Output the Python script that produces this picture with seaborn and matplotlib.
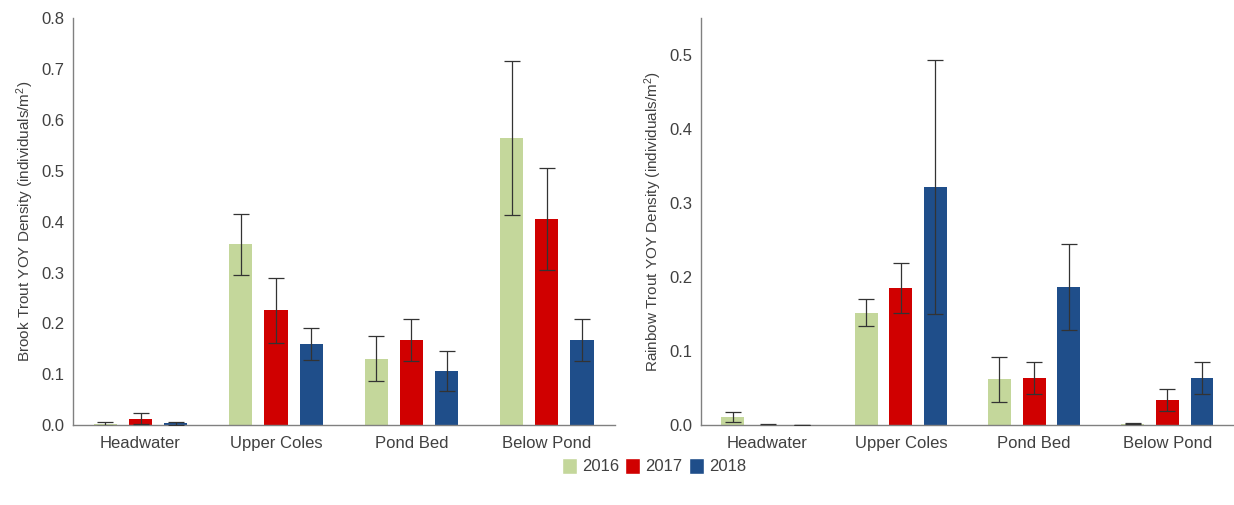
import matplotlib
matplotlib.use("Agg")
import matplotlib.pyplot as plt
import seaborn as sns
import pandas as pd
import numpy as np
from matplotlib.patches import Patch

sns.set_style("white")
plt.rcParams["font.family"] = ["Liberation Sans", "DejaVu Sans"]
plt.rcParams["mathtext.default"] = "regular"

# -------------------------------
# Data
# -------------------------------
sites = ["Headwater", "Upper Coles", "Pond Bed", "Below Pond"]
years = ["2016", "2017", "2018"]

brook_2016 = [0.003, 0.356, 0.131, 0.565]
brook_2017 = [0.013, 0.226, 0.167, 0.405]
brook_2018 = [0.004, 0.160, 0.106, 0.167]
brook_err_2016 = [0.004, 0.060, 0.045, 0.151]
brook_err_2017 = [0.011, 0.064, 0.041, 0.100]
brook_err_2018 = [0.003, 0.031, 0.039, 0.041]

rainbow_2016 = [0.011, 0.152, 0.062, 0.002]
rainbow_2017 = [0.000, 0.185, 0.064, 0.034]
rainbow_2018 = [0.000, 0.322, 0.187, 0.064]
rainbow_err_2016 = [0.007, 0.018, 0.030, 0.001]
rainbow_err_2017 = [0.001, 0.034, 0.022, 0.015]
rainbow_err_2018 = [0.000, 0.172, 0.058, 0.022]

colors = ["#c4d79b", "#d00000", "#1f4e8a"]
text_col = "#404040"


def long_table(v16, v17, v18):
    rows = []
    for yr, vals in zip(years, [v16, v17, v18]):
        for s, v in zip(sites, vals):
            rows.append({"site": s, "year": yr, "density": v})
    return pd.DataFrame(rows)


def draw_panel(ax, df, errs, ylabel, ymax, yticks):
    sns.barplot(
        data=df, x="site", y="density", hue="year",
        order=sites, hue_order=years, palette=colors, saturation=1,
        width=0.78, gap=0.34, errorbar=None, linewidth=0,
        legend=False, ax=ax
    )
    # error bars on top of the seaborn bars
    for cont, err in zip(ax.containers, errs):
        xs = [p.get_x() + p.get_width() / 2 for p in cont.patches]
        hs = [p.get_height() for p in cont.patches]
        ax.errorbar(xs, hs, yerr=err, fmt="none", ecolor="#333333",
                    elinewidth=0.9, capsize=6, capthick=0.9, zorder=5)

    ax.set_xlim(-0.5, 3.5)
    ax.set_ylim(0, ymax)
    ax.set_yticks(yticks)
    ax.set_yticklabels([f"{t:.1f}" for t in yticks])
    ax.set_xlabel("")
    ax.set_ylabel(ylabel, fontsize=11, color=text_col)
    sns.despine(ax=ax)
    for sp in ["left", "bottom"]:
        ax.spines[sp].set_color("#808080")
        ax.spines[sp].set_linewidth(1.0)
    ax.tick_params(axis="y", direction="in", length=3, color="#808080",
                   labelsize=12, labelcolor=text_col, pad=6)
    ax.tick_params(axis="x", length=0, labelsize=12, labelcolor=text_col, pad=8)


fig = plt.figure(figsize=(12.34, 5.05), dpi=100)
ax1 = fig.add_axes([0.059, 0.158, 0.439, 0.806])
ax2 = fig.add_axes([0.568, 0.158, 0.432, 0.806])

draw_panel(
    ax1, long_table(brook_2016, brook_2017, brook_2018),
    [brook_err_2016, brook_err_2017, brook_err_2018],
    "Brook Trout YOY Density (individuals/m$^2$)", 0.8,
    np.arange(0, 0.81, 0.1)
)
draw_panel(
    ax2, long_table(rainbow_2016, rainbow_2017, rainbow_2018),
    [rainbow_err_2016, rainbow_err_2017, rainbow_err_2018],
    "Rainbow Trout YOY Density (individuals/m$^2$)", 0.55,
    np.arange(0, 0.51, 0.1)
)

handles = [Patch(facecolor=c, label=y) for c, y in zip(colors, years)]
fig.legend(handles=handles, loc="center", bbox_to_anchor=(0.53, 0.077),
           ncol=3, frameon=False, fontsize=12, handlelength=0.9,
           handleheight=1.1, handletextpad=0.3, columnspacing=0.4,
           labelcolor=text_col)

plt.savefig("out.png", dpi=100)
plt.close()
